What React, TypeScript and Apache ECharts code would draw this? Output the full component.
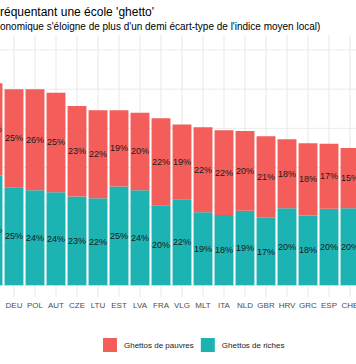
import React, { useEffect, useRef } from 'react';
import * as echarts from 'echarts';

const countries = ['', 'DEU', 'POL', 'AUT', 'CZE', 'LTU', 'EST', 'LVA', 'FRA', 'VLG', 'MLT', 'ITA', 'NLD', 'GBR', 'HRV', 'GRC', 'ESP', 'CHE'];
const pauvres = [23.5, 25.0, 25.8, 25.4, 23.1, 22.4, 19.4, 19.8, 22.2, 19.1, 21.7, 21.6, 20.3, 20.8, 17.6, 18.4, 16.6, 15.4];
const riches = [28.0, 25.0, 24.2, 23.7, 22.6, 22.2, 25.2, 24.2, 20.4, 21.9, 18.6, 17.9, 19.0, 17.2, 19.6, 17.8, 19.5, 19.6];
const yGridValues = [0, 10, 20, 30, 40, 50, 60];
const titleText = "réquentant une école 'ghetto'";
const subtitleText = "onomique s'éloigne de plus d'un demi écart-type de l'indice moyen local)";
const legendNames = ['Ghettos de pauvres', 'Ghettos de riches'];

const FONT = 'Liberation Sans, Arial, Helvetica, sans-serif';
const OFF = 40;
const RED = '#F35E5A';
const TEAL = '#1DB3B3';

export default function App() {
  const ref = useRef<HTMLDivElement>(null);
  useEffect(() => {
    if (!ref.current) return;
    const chart = echarts.init(ref.current, undefined, { renderer: 'svg' });
    const labelOpt = {
      show: true,
      position: 'inside',
      formatter: (p: any) => Math.round(p.value) + '%',
      fontSize: 9,
      color: '#1A1A1A',
      fontFamily: FONT,
    };
    chart.setOption({
      animation: false,
      textStyle: { fontFamily: FONT },
      graphic: [
        { type: 'text', x: OFF, y: 11.5, style: { text: titleText, fontSize: 12, fill: '#000', fontFamily: FONT, verticalAlign: 'middle', align: 'left' } },
        { type: 'text', x: OFF, y: 26, style: { text: subtitleText, fontSize: 10, fill: '#000', fontFamily: FONT, verticalAlign: 'middle', align: 'left' } },
      ],
      legend: {
        data: legendNames,
        left: OFF + 103,
        top: 338,
        padding: 0,
        itemWidth: 14,
        itemHeight: 14,
        itemGap: 7,
        icon: 'rect',
        textStyle: { fontSize: 8, color: '#1A1A1A', fontFamily: FONT, padding: [0, 0, 0, 2] },
      },
      grid: { left: OFF - 17.5, right: 440 - (OFF - 17.5) - 378, top: 35, bottom: 67, containLabel: false },
      xAxis: {
        type: 'category',
        data: countries,
        axisLine: { show: false },
        axisTick: { show: false },
        splitLine: { show: false },
        axisLabel: { interval: 0, fontSize: 8, color: '#4D4D4D', margin: 4, fontFamily: FONT },
      },
      yAxis: {
        type: 'value',
        min: -3,
        max: 63.8,
        show: false,
        splitLine: { show: false },
      },
      series: [
        {
          type: 'custom',
          z: 1,
          silent: true,
          data: yGridValues.map((v) => [0, v]),
          renderItem: (params: any, api: any) => {
            const cs = params.coordSys;
            const y = api.coord([0, api.value(1)])[1];
            return {
              type: 'line',
              shape: { x1: cs.x, y1: y, x2: cs.x + cs.width, y2: y },
              style: { stroke: '#EBEBEB', lineWidth: 1 },
            };
          },
        },
        {
          type: 'custom',
          z: 1,
          silent: true,
          data: countries.map((_, i) => [i, 0]),
          renderItem: (params: any, api: any) => {
            const cs = params.coordSys;
            const x = api.coord([api.value(0), 0])[0];
            return {
              type: 'line',
              shape: { x1: x, y1: cs.y, x2: x, y2: cs.y + cs.height },
              style: { stroke: '#EBEBEB', lineWidth: 1.2 },
            };
          },
        },
        {
          name: 'Ghettos de riches',
          type: 'bar',
          stack: 'total',
          z: 2,
          barWidth: '90%',
          data: riches,
          itemStyle: { color: TEAL },
          label: labelOpt,
        },
        {
          name: 'Ghettos de pauvres',
          type: 'bar',
          stack: 'total',
          z: 2,
          barWidth: '90%',
          data: pauvres,
          itemStyle: { color: RED },
          label: labelOpt,
        },
      ],
    });
    return () => chart.dispose();
  }, []);
  return (
    <div style={{ position: 'fixed', left: 0, top: 0, width: 356, height: 364, overflow: 'hidden', background: '#fff' }}>
      <div ref={ref} style={{ position: 'absolute', left: -OFF, top: 0, width: 440, height: 364 }} />
    </div>
  );
}
